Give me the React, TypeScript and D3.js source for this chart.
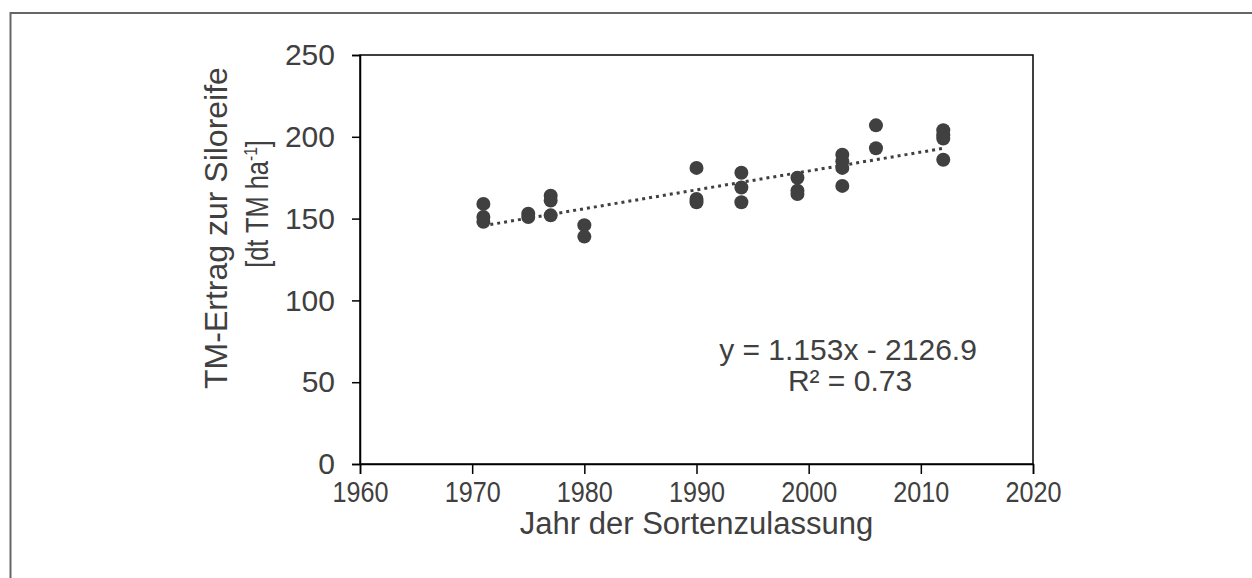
import React, { useEffect, useRef } from 'react';
import * as d3 from 'd3';

// year of variety registration and dry-matter yield (dt TM/ha)
const years = [
  1971, 1971, 1971, 1975, 1975, 1977, 1977, 1977, 1980, 1980,
  1990, 1990, 1990, 1994, 1994, 1994, 1999, 1999, 1999,
  2003, 2003, 2003, 2003, 2006, 2006, 2012, 2012, 2012, 2012,
];
const yields = [
  159, 151, 148, 153, 151, 164, 161, 152, 146, 139,
  181, 162, 160, 178, 169, 160, 175, 167, 165,
  189, 185, 181, 170, 207, 193, 204, 201, 199, 186,
];
const slope = 1.153;
const intercept = -2126.9;
const xTicks = [1960, 1970, 1980, 1990, 2000, 2010, 2020];
const yTicks = [0, 50, 100, 150, 200, 250];

const W = 1252;
const H = 578;
const FONT = 'Liberation Sans, Arial, sans-serif';
const INK = '#404040';

const App = () => {
  const svgRef = useRef<SVGSVGElement | null>(null);

  useEffect(() => {
    const svg = d3.select(svgRef.current);
    svg.selectAll('*').remove();

    const left = 360, right = 1033, top = 55, bottom = 464;
    const x = d3.scaleLinear().domain([1960, 2020]).range([left, right]);
    const y = d3.scaleLinear().domain([0, 250]).range([bottom, top]);

    svg.append('rect').attr('width', W).attr('height', H).attr('fill', '#fff');

    // outer frame (only top and left edges are visible)
    svg.append('path')
      .attr('d', `M10.5,${H} V13 H${W}`)
      .attr('fill', 'none')
      .attr('stroke', '#666')
      .attr('stroke-width', 2);

    // plot box
    svg.append('rect')
      .attr('x', left)
      .attr('y', top)
      .attr('width', right - left)
      .attr('height', bottom - top)
      .attr('fill', 'none')
      .attr('stroke', '#000')
      .attr('stroke-width', 1.5);

    const xAxis = svg.append('g')
      .attr('transform', `translate(0,${bottom})`)
      .call(d3.axisBottom(x).tickValues(xTicks).tickFormat(d3.format('d')).tickSize(10).tickPadding(7));
    const yAxis = svg.append('g')
      .attr('transform', `translate(${left},0)`)
      .call(d3.axisLeft(y).tickValues(yTicks).tickSize(8).tickPadding(17));

    [xAxis, yAxis].forEach(g => {
      g.select('.domain').attr('stroke', '#000').attr('stroke-width', 1.5);
      g.selectAll('.tick line').attr('stroke', '#000').attr('stroke-width', 1.5);
      g.selectAll('.tick text')
        .attr('fill', INK)
        .style('font-family', FONT)
        .style('font-size', '30px');
    });
    // year labels are set a bit narrower
    xAxis.selectAll('.tick text')
      .attr('transform', 'scale(0.84,1)');

    // trend line over the range of the data
    const [x0, x1] = d3.extent(years) as [number, number];
    svg.append('line')
      .attr('x1', x(x0))
      .attr('y1', y(slope * x0 + intercept))
      .attr('x2', x(x1))
      .attr('y2', y(slope * x1 + intercept))
      .attr('stroke', INK)
      .attr('stroke-width', 3)
      .attr('stroke-dasharray', '3,4');

    svg.append('g')
      .selectAll('circle')
      .data(years)
      .enter()
      .append('circle')
      .attr('cx', d => x(d))
      .attr('cy', (d, i) => y(yields[i]))
      .attr('r', 7)
      .attr('fill', INK);

    // equation
    const eq = svg.append('text')
      .attr('text-anchor', 'middle')
      .attr('fill', INK)
      .style('font-family', FONT)
      .style('font-size', '30px');
    eq.append('tspan').attr('x', 848).attr('y', 360)
      .text(`y = ${slope}x - ${Math.abs(intercept)}`);
    eq.append('tspan').attr('x', 850).attr('y', 391).text('R² = 0.73');

    // axis titles
    svg.append('text')
      .attr('x', (left + right) / 2)
      .attr('y', 534)
      .attr('text-anchor', 'middle')
      .attr('fill', INK)
      .style('font-family', FONT)
      .style('font-size', '31px')
      .text('Jahr der Sortenzulassung');

    svg.append('text')
      .attr('transform', 'translate(227,228) rotate(-90)')
      .attr('text-anchor', 'middle')
      .attr('fill', INK)
      .style('font-family', FONT)
      .style('font-size', '32px')
      .text('TM-Ertrag zur Siloreife');

    const l2 = svg.append('text')
      .attr('transform', 'translate(268,204) rotate(-90) scale(0.82,1)')
      .attr('text-anchor', 'middle')
      .attr('fill', INK)
      .style('font-family', FONT)
      .style('font-size', '31px');
    l2.append('tspan').text('[dt TM ha');
    l2.append('tspan').attr('dy', -11).style('font-size', '19px').text('-1');
    l2.append('tspan').attr('dy', 11).text(']');
  }, []);

  return (
    <svg
      ref={svgRef}
      width={W}
      height={H}
      style={{ position: 'absolute', left: 0, top: 0 }}
    />
  );
};

export default App;
